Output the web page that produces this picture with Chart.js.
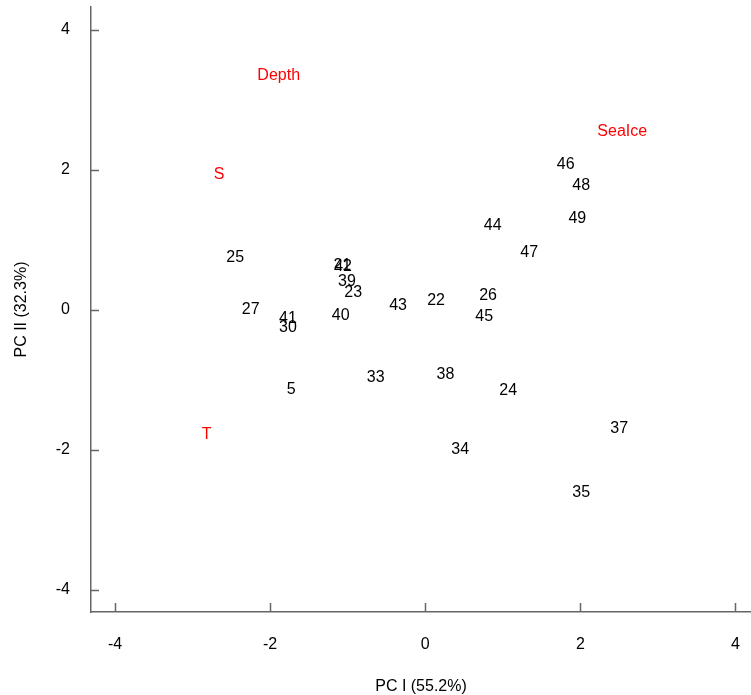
<!DOCTYPE html>
<html>
<head>
<meta charset="utf-8">
<script src="https://cdn.jsdelivr.net/npm/chart.js@4.4.1/dist/chart.umd.min.js"></script>
<style>
  html, body { margin: 0; padding: 0; background: #fff; overflow: hidden; }
  canvas { display: block; }
</style>
</head>
<body>
<canvas id="pcaChart" width="751" height="695"></canvas>
<script>
// Scores of the sites on the first two principal components
const siteLabels = ['46', '48', '49', '44', '47', '25', '21', '42', '39', '23', '27', '41', '30',
                    '40', '43', '22', '26', '45', '5', '33', '38', '24', '37', '34', '35'];
const sitePc1 = [1.81, 2.01, 1.96, 0.87, 1.34, -2.45, -1.07, -1.06, -1.01, -0.93, -2.25, -1.77, -1.77,
                 -1.09, -0.35, 0.14, 0.81, 0.76, -1.73, -0.64, 0.26, 1.07, 2.50, 0.45, 2.01];
const sitePc2 = [2.10, 1.79, 1.33, 1.22, 0.83, 0.76, 0.65, 0.63, 0.42, 0.26, 0.02, -0.11, -0.23,
                 -0.06, 0.08, 0.15, 0.22, -0.08, -1.12, -0.95, -0.91, -1.13, -1.68, -1.98, -2.59];

// Environmental variables (red labels)
const varLabels = ['Depth', 'SeaIce', 'S', 'T'];
const varPc1 = [-1.89, 2.54, -2.66, -2.82];
const varPc2 = [3.36, 2.57, 1.95, -1.76];

// Axis ticks and titles
const xTickValues = [-4, -2, 0, 2, 4];
const yTickValues = [-4, -2, 0, 2, 4];
const xTitle = 'PC I (55.2%)';
const yTitle = 'PC II (32.3%)';

const FONT = '"Liberation Sans", Arial, sans-serif';
const AXIS_COLOR = '#666';

// Write each label centred on its point (like R's text())
const textLabels = {
  id: 'textLabels',
  afterDatasetsDraw(chart) {
    const ctx = chart.ctx;
    ctx.save();
    ctx.font = '16px ' + FONT;
    ctx.textAlign = 'center';
    ctx.textBaseline = 'middle';
    chart.data.datasets.forEach((ds, i) => {
      const meta = chart.getDatasetMeta(i);
      ctx.fillStyle = ds.labelColor;
      meta.data.forEach((pt, j) => {
        ctx.fillText(ds.labels[j], pt.x, pt.y + 1.5); // glyphs sit a bit low in R
      });
    });
    ctx.restore();
  }
};

// Tick marks pointing into the plot
const innerTicks = {
  id: 'innerTicks',
  afterDraw(chart) {
    const ctx = chart.ctx;
    const { x, y } = chart.scales;
    ctx.save();
    ctx.strokeStyle = AXIS_COLOR;
    ctx.lineWidth = 1.5;
    ctx.beginPath();
    xTickValues.forEach(v => {
      const px = Math.round(x.getPixelForValue(v)) + 0.5;
      ctx.moveTo(px, y.bottom);
      ctx.lineTo(px, y.bottom - 9);
    });
    yTickValues.forEach(v => {
      const py = Math.round(y.getPixelForValue(v)) + 0.5;
      ctx.moveTo(x.left, py);
      ctx.lineTo(x.left + 8, py);
    });
    ctx.stroke();
    ctx.restore();
  }
};

const toPoints = (xs, ys) => xs.map((v, i) => ({ x: v, y: ys[i] }));

new Chart(document.getElementById('pcaChart'), {
  type: 'scatter',
  data: {
    datasets: [
      { data: toPoints(sitePc1, sitePc2), labels: siteLabels, labelColor: '#000', pointRadius: 0 },
      { data: toPoints(varPc1, varPc2), labels: varLabels, labelColor: '#ff0000', pointRadius: 0 }
    ]
  },
  options: {
    responsive: false,
    animation: false,
    layout: { padding: { top: 7, right: 0, left: 0, bottom: 0 } },
    plugins: { legend: { display: false }, tooltip: { enabled: false } },
    scales: {
      x: {
        type: 'linear',
        min: -4.31,
        max: 4.2,
        afterBuildTicks: s => { s.ticks = xTickValues.map(v => ({ value: v })); },
        afterFit: s => { s.height = 83; s.paddingLeft = 0; s.paddingRight = 0; },
        grid: { display: false, drawTicks: false },
        border: { display: true, color: AXIS_COLOR, width: 1.5 },
        ticks: { color: '#000', font: { family: FONT, size: 16 }, padding: 23, maxRotation: 0,
                 callback: v => String(v) },
        title: { display: true, text: xTitle, color: '#000', font: { family: FONT, size: 16 },
                 padding: { top: 0, bottom: -1 } }
      },
      y: {
        type: 'linear',
        min: -4.32,
        max: 4.325,
        afterBuildTicks: s => { s.ticks = yTickValues.map(v => ({ value: v })); },
        afterFit: s => { s.width = 91; s.paddingTop = 0; s.paddingBottom = 0; },
        grid: { display: false, drawTicks: false },
        border: { display: true, color: AXIS_COLOR, width: 1.5 },
        ticks: { color: '#000', font: { family: FONT, size: 16 }, padding: 21,
                 callback: v => String(v) },
        title: { display: true, text: yTitle, color: '#000', font: { family: FONT, size: 16 },
                 padding: { top: 12, bottom: 12 } }
      }
    }
  },
  plugins: [textLabels, innerTicks]
});
</script>
</body>
</html>
